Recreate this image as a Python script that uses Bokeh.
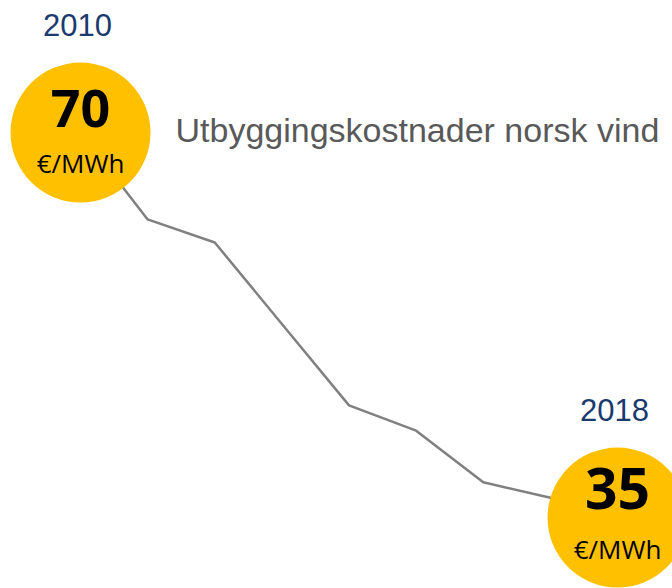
from bokeh.plotting import figure
from bokeh.models import ColumnDataSource, Label
from bokeh.core.properties import value
from bokeh.embed import file_html
from bokeh.resources import INLINE

years = [2010, 2011, 2012, 2013, 2014, 2015, 2016, 2017, 2018]
cost = [70, 62.1, 60, 52.6, 45.2, 42.9, 38.2, 36.8, 35]
end_years = [2010, 2018]
end_values = [70, 35]
end_value_labels = ["70", "35"]
unit_label = "€/MWh"
title_text = "Utbyggingskostnader norsk vind"

p = figure(width=672, height=588, output_backend="svg", toolbar_location=None,
           x_range=(2008.808, 2018.819), y_range=(28.55, 82.0),
           min_border=0, outline_line_color=None, background_fill_color="white")
p.xaxis.visible = False
p.yaxis.visible = False
p.xgrid.visible = False
p.ygrid.visible = False

p.line(years, cost, line_color="#808080", line_width=2.5)

src = ColumnDataSource(dict(x=end_years, y=end_values, lab=end_value_labels,
                            unit=[unit_label] * 2, yr=[str(y) for y in end_years],
                            fs=["52px", "57px"], voff=[-24, -29], uoff=[30, 31]))
p.scatter("x", "y", source=src, size=140, fill_color="#FFC000", line_color=None)

p.text("x", "y", text="lab", source=src, text_font=value("Open Sans"), text_font_style="bold",
       text_font_size="fs", text_color="#000000", text_align="center",
       text_baseline="middle", y_offset="voff")
p.text("x", "y", text="unit", source=src, text_font=value("Open Sans"),
       text_font_size="26px", text_color="#000000", text_align="center",
       text_baseline="middle", y_offset="uoff")
p.text("x", "y", text="yr", source=src, text_font=value("Liberation Sans"),
       text_font_size="31px", text_color="#1B3A6E", text_align="center",
       text_baseline="middle", y_offset=-108, x_offset=-3)

p.add_layout(Label(x=175, y=459, x_units="screen", y_units="screen", text=title_text,
                   text_font="Liberation Sans", text_font_size="34px",
                   text_color="#595959", text_baseline="alphabetic"))

open("out.html", "w").write(file_html(p, INLINE))
